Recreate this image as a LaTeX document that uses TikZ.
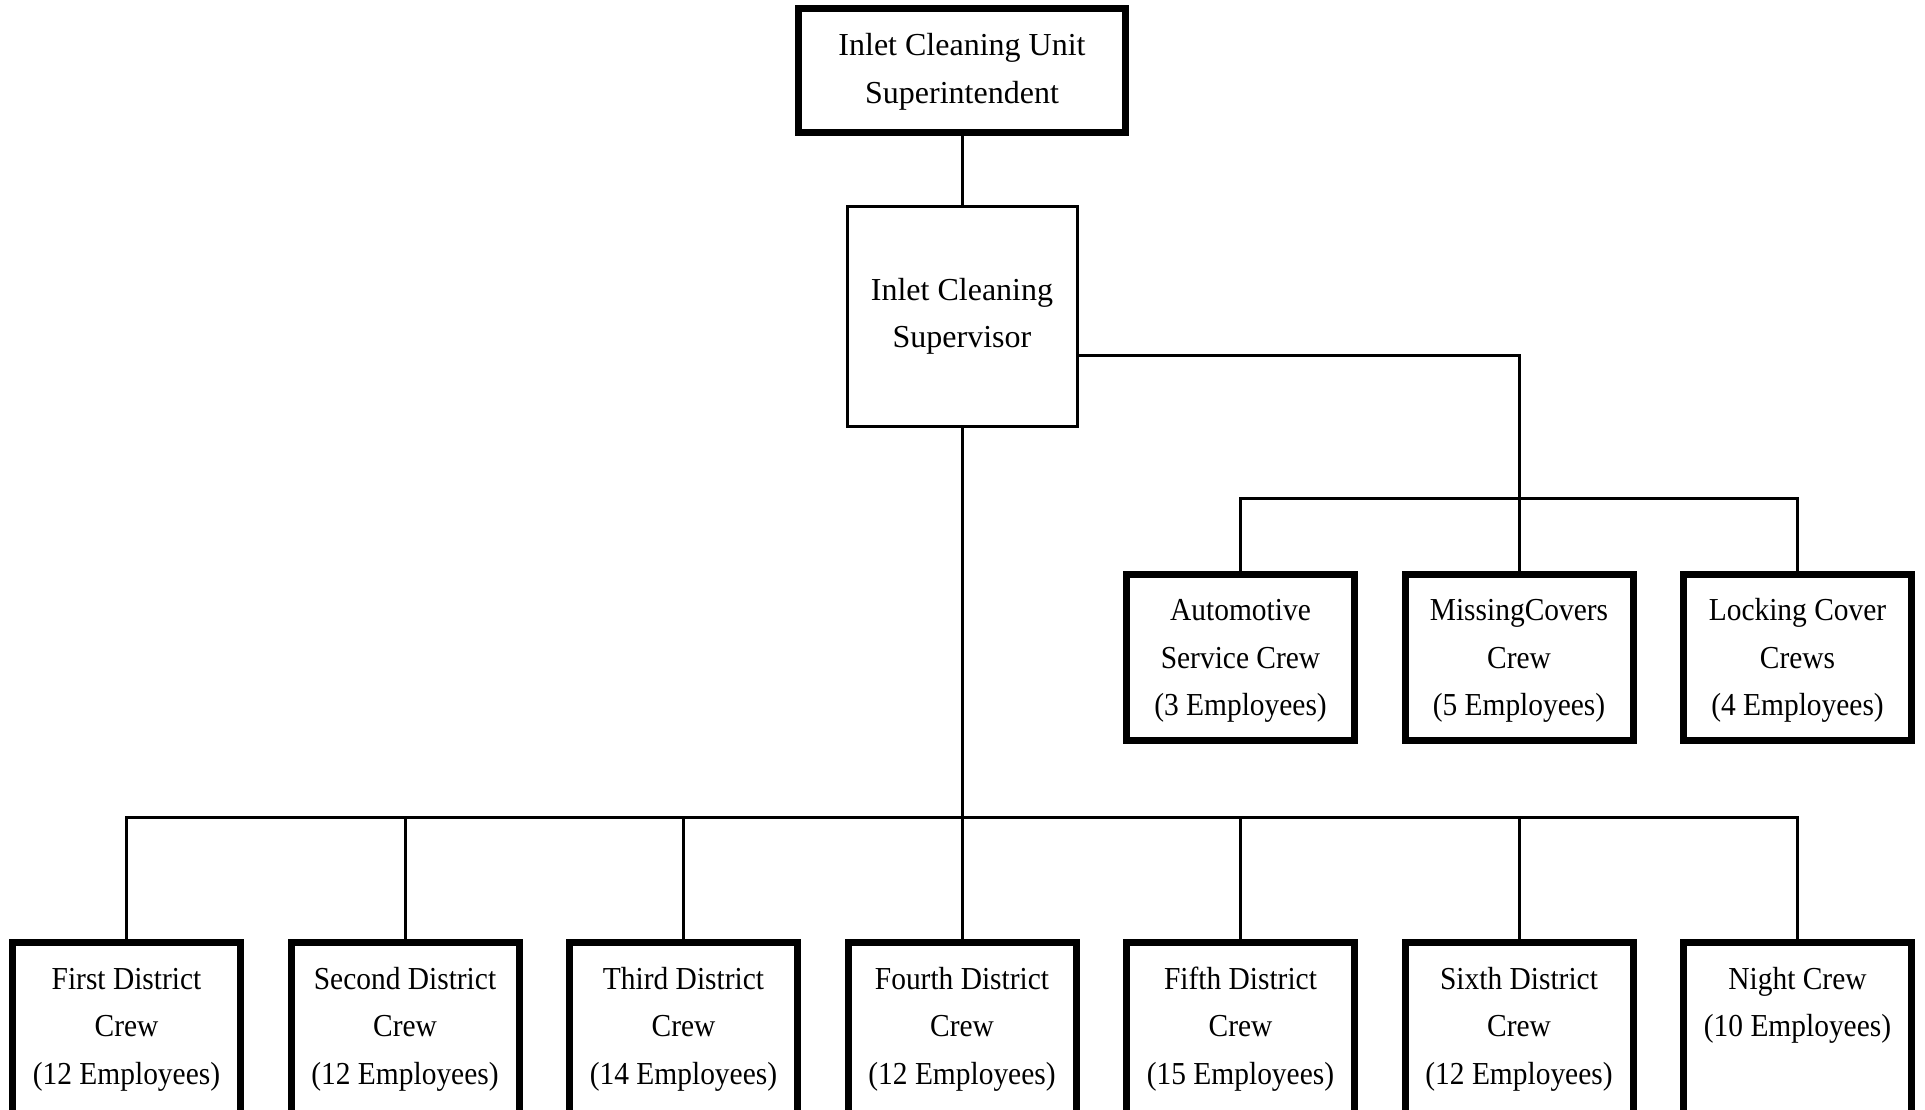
\documentclass[tikz,border=0pt]{standalone}
\usepackage{fontspec}
\setmainfont{Liberation Serif}
\newfontfamily\crewfont[FakeStretch=0.92]{Liberation Serif}
% text block of a box: fixed height and width, lines hung from the top
\newcommand\boxlines[4]{\parbox[c][#1][t]{#2}{\centering\rule{0pt}{#3}#4}}
\newcommand\crewlines[2]{\boxlines{#1}{171pt}{35pt}{#2}}
\begin{document}
\begin{tikzpicture}[x=0.75pt,y=-0.75pt,
  link/.style={line width=2.25pt},
  headbox/.style={draw, line width=5.25pt, outer sep=0pt, inner sep=0pt,
    font=\fontsize{24}{35.6}\selectfont},
  supbox/.style={draw, line width=2.25pt, outer sep=0pt, inner sep=0pt,
    minimum width=172.5pt, minimum height=165pt, align=center,
    font=\fontsize{24}{35.6}\selectfont},
  crewbox/.style={draw, line width=5.25pt, outer sep=0pt, inner sep=0pt,
    anchor=north, font=\crewfont\fontsize{24}{35.6}\selectfont}]
\path[use as bounding box] (0,0) rectangle (1925,1110);
\clip (0,0) rectangle (1925,1110);
\fill[white] (0,0) rectangle (1925,1110);

% management
\node[headbox] (head) at (962,70) {\boxlines{93pt}{245.25pt}{36pt}{Inlet Cleaning Unit\\Superintendent}};
\node[supbox] (sup) at (962,316.5) {Inlet Cleaning\\Supervisor};

% special crews
\node[crewbox] (auto) at (1240.5,574) {\crewlines{125pt}{Automotive\\Service Crew\\(3 Employees)}};
\node[crewbox] (miss) at (1519,574) {\crewlines{125pt}{MissingCovers\\Crew\\(5 Employees)}};
\node[crewbox] (lock) at (1797.5,574) {\crewlines{125pt}{Locking Cover\\Crews\\(4 Employees)}};

% district crews
\node[crewbox] (d1) at (126.5,942.5) {\crewlines{150pt}{First District\\Crew\\(12 Employees)}};
\node[crewbox] (d2) at (405,942.5) {\crewlines{150pt}{Second District\\Crew\\(12 Employees)}};
\node[crewbox] (d3) at (683.5,942.5) {\crewlines{150pt}{Third District\\Crew\\(14 Employees)}};
\node[crewbox] (d4) at (962,942.5) {\crewlines{150pt}{Fourth District\\Crew\\(12 Employees)}};
\node[crewbox] (d5) at (1240.5,942.5) {\crewlines{150pt}{Fifth District\\Crew\\(15 Employees)}};
\node[crewbox] (d6) at (1519,942.5) {\crewlines{150pt}{Sixth District\\Crew\\(12 Employees)}};
\node[crewbox] (d7) at (1797.5,942.5) {\crewlines{150pt}{Night Crew\\(10 Employees)}};

% connector levels
\coordinate (supout) at (0,355);
\coordinate (busA) at (0,498);
\coordinate (busB) at (0,817.6);

% connectors
\draw[link] (head.south) -- (sup.north);
\draw[link] (sup.east |- supout) -| (miss.north);
\draw[link] (auto.north) |- (lock.north |- busA) -- (lock.north);
\draw[link] (sup.south) -- (d4.north);
\draw[link] (d1.north) |- (d7.north |- busB) -- (d7.north);
\foreach \n in {d2,d3,d5,d6}
  \draw[link] (\n.north) -- (\n.north |- busB);
\end{tikzpicture}
\end{document}
